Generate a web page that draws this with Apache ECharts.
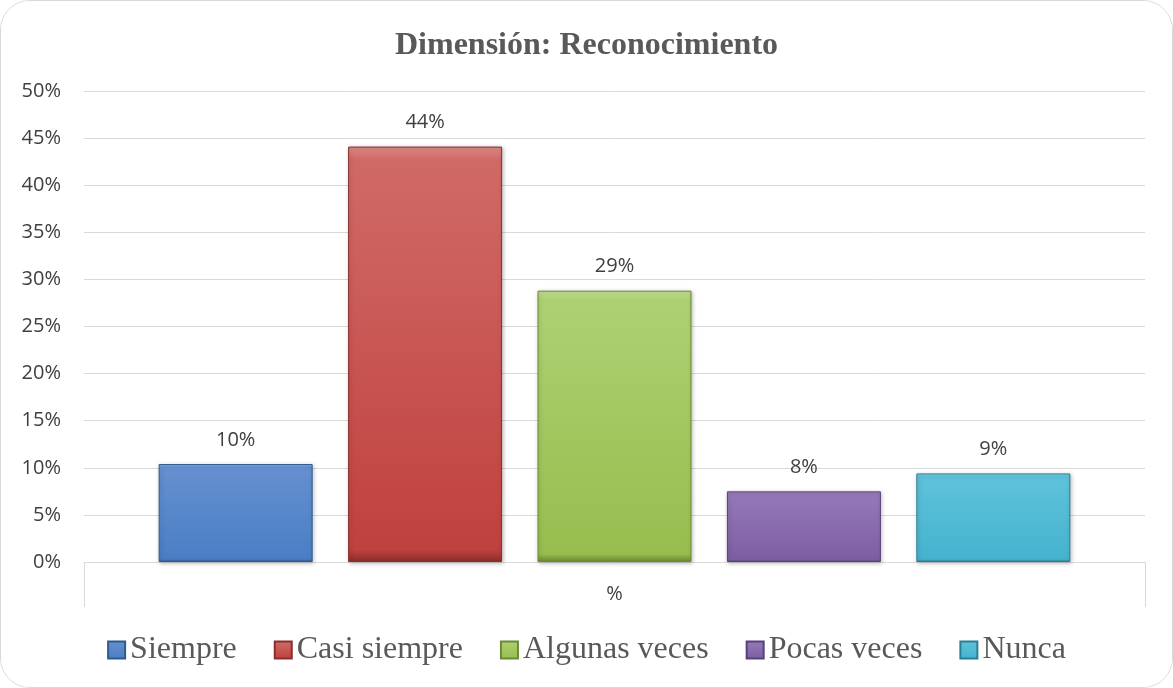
<!DOCTYPE html>
<html>
<head>
<meta charset="utf-8">
<script src="https://cdn.jsdelivr.net/npm/echarts@6/dist/echarts.min.js"></script>
<style>
  html, body { margin: 0; padding: 0; background: #fff; }
  #chart {
    position: absolute; left: 0; top: 0;
    width: 1171px; height: 686px;
    border: 1px solid #d9d9d9; border-radius: 30px;
    overflow: hidden; background: #fff;
  }
</style>
</head>
<body>
<div id="chart"></div>
<script>
var categories = ["%"];
var seriesNames = ["Siempre", "Casi siempre", "Algunas veces", "Pocas veces", "Nunca"];
var seriesValues = [10.4, 44.1, 28.8, 7.5, 9.4];
var labelValues = ["10%", "44%", "29%", "8%", "9%"];
var yTicks = [0, 5, 10, 15, 20, 25, 30, 35, 40, 45, 50];

var baseColors = ["#4a7ec4", "#c0413e", "#98bd4e", "#7d5ea3", "#45b3cf"];
var lightColors = ["#8db7ec", "#e08a87", "#c6df98", "#ab92cc", "#8ddcee"];
var topColors = ["#6590d0", "#d06a67", "#add172", "#9479b8", "#5fc2da"];
var darkColors = ["#2f5a8e", "#8a2f2d", "#6a8a33", "#56417a", "#2b7d93"];

var chart = echarts.init(document.getElementById("chart"));

var series = seriesNames.map(function (name, i) {
  return {
    name: name,
    type: "bar",
    barWidth: 154,
    barGap: "23%",
    data: [seriesValues[i]],
    itemStyle: {
      color: new echarts.graphic.LinearGradient(0, 0, 0, 1, [
        { offset: 0, color: lightColors[i] },
        { offset: 0.03, color: topColors[i] },
        { offset: 0.97, color: baseColors[i] },
        { offset: 1, color: darkColors[i] }
      ]),
      borderColor: darkColors[i],
      borderWidth: 1,
      shadowColor: "rgba(0,0,0,0.25)",
      shadowBlur: 4,
      shadowOffsetX: 1,
      shadowOffsetY: 1
    },
    label: {
      show: true,
      position: "top",
      distance: 14,
      color: "#404040",
      fontFamily: "Open Sans",
      fontSize: 20,
      formatter: function () { return labelValues[i]; }
    }
  };
});

var option = {
  backgroundColor: "#fff",
  animation: false,
  title: {
    text: "Dimensión: Reconocimiento",
    left: "center",
    top: 24,
    textStyle: {
      fontFamily: "Liberation Serif",
      fontWeight: "bold",
      fontSize: 32,
      color: "#595959"
    }
  },
  legend: {
    bottom: 16,
    left: "center",
    itemWidth: 17,
    itemHeight: 17,
    itemGap: 37,
    icon: "rect",
    textStyle: {
      fontFamily: "Liberation Serif",
      fontSize: 32,
      color: "#595959"
    },
    data: seriesNames
  },
  grid: {
    left: 83,
    right: 27,
    top: 90,
    bottom: 125
  },
  xAxis: {
    type: "category",
    data: categories,
    axisLine: { show: true, lineStyle: { color: "#d9d9d9", width: 1 } },
    axisTick: { show: true, length: 45, lineStyle: { color: "#d9d9d9" } },
    axisLabel: {
      margin: 22,
      color: "#404040",
      fontFamily: "Open Sans",
      fontSize: 20
    }
  },
  yAxis: {
    type: "value",
    min: 0,
    max: 50,
    interval: 5,
    axisLine: { show: false },
    axisTick: { show: false },
    splitLine: { lineStyle: { color: "#d9d9d9", width: 1 } },
    axisLabel: {
      margin: 23,
      color: "#404040",
      fontFamily: "Open Sans",
      fontSize: 20,
      formatter: function (v) { return yTicks.indexOf(v) >= 0 ? v + "%" : ""; }
    }
  },
  series: series
};

chart.setOption(option);
</script>
</body>
</html>
